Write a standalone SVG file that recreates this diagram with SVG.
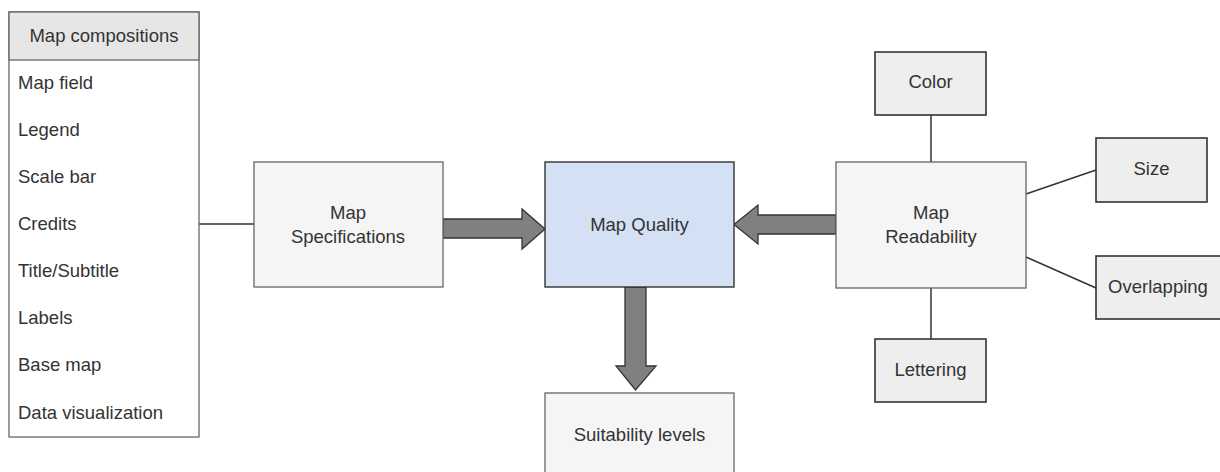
<svg xmlns="http://www.w3.org/2000/svg" width="1220" height="472" viewBox="0 0 1220 472">
<style>
text{font-family:"Liberation Sans",Arial,sans-serif;font-size:18.5px;fill:#333333}
.c{text-anchor:middle}
.light{fill:#f5f5f5;stroke:#666666;stroke-width:1.3}
.attr{fill:#eeeeee;stroke:#333333;stroke-width:1.6}
.line{stroke:#333333;stroke-width:1.5;fill:none}
.arrow{fill:#808080;stroke:#333333;stroke-width:1.3;stroke-linejoin:miter}
</style>
<rect width="1220" height="472" fill="#ffffff"/>
<g id="connectors">
<line class="line" x1="199" y1="224" x2="254" y2="224"/>
<line class="line" x1="931" y1="115" x2="931" y2="162"/>
<line class="line" x1="931" y1="288" x2="931" y2="339"/>
<line class="line" x1="1026" y1="194" x2="1096" y2="170"/>
<line class="line" x1="1026" y1="257" x2="1096" y2="288"/>
<path class="arrow" d="M443,219 L522,219 L522,209 L545,229 L522,249 L522,238 L443,238 Z"/>
<path class="arrow" d="M836,215 L758,215 L758,205 L734,224.5 L758,244 L758,234 L836,234 Z"/>
<path class="arrow" d="M625,287 L646,287 L646,366 L656,366 L635.5,390 L616,366 L625,366 Z"/>
</g>
<g id="map-compositions">
<rect x="9" y="12" width="190" height="425" fill="#ffffff" stroke="#666666" stroke-width="1.3"/>
<rect x="9" y="12" width="190" height="48" fill="#e6e6e6" stroke="#666666" stroke-width="1.3"/>
<text class="c" x="104" y="42">Map compositions</text>
<text x="18" y="89">Map field</text>
<text x="18" y="136">Legend</text>
<text x="18" y="183">Scale bar</text>
<text x="18" y="230">Credits</text>
<text x="18" y="277">Title/Subtitle</text>
<text x="18" y="324">Labels</text>
<text x="18" y="371">Base map</text>
<text x="18" y="419">Data visualization</text>
</g>
<g id="map-specifications">
<rect class="light" x="254" y="162" width="189" height="125"/>
<text class="c" x="348" y="219">Map</text>
<text class="c" x="348" y="243">Specifications</text>
</g>
<g id="map-quality">
<rect x="545" y="162" width="189" height="125" fill="#d4e1f5" stroke="#333333" stroke-width="1.4"/>
<text class="c" x="639.5" y="231">Map Quality</text>
</g>
<g id="suitability-levels">
<rect class="light" x="545" y="393" width="189" height="86"/>
<text class="c" x="639.5" y="441">Suitability levels</text>
</g>
<g id="map-readability">
<rect class="light" x="836" y="162" width="190" height="126"/>
<text class="c" x="931" y="219">Map</text>
<text class="c" x="931" y="243">Readability</text>
</g>
<g id="color">
<rect class="attr" x="875" y="52" width="111" height="63"/>
<text class="c" x="930.5" y="88">Color</text>
</g>
<g id="size">
<rect class="attr" x="1096" y="138" width="111" height="64"/>
<text class="c" x="1151.5" y="175">Size</text>
</g>
<g id="overlapping">
<rect class="attr" x="1096" y="256" width="126" height="63"/>
<text class="c" x="1158" y="293">Overlapping</text>
</g>
<g id="lettering">
<rect class="attr" x="875" y="339" width="111" height="63"/>
<text class="c" x="930.5" y="376">Lettering</text>
</g>
</svg>
